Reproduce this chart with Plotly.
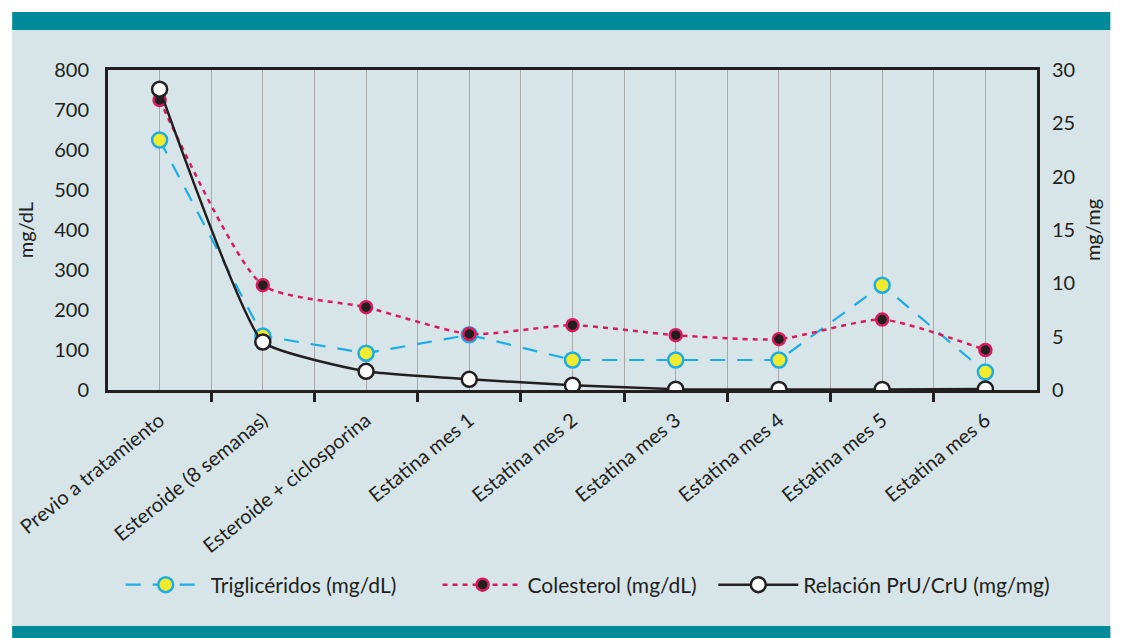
import plotly.graph_objects as go

categories = ["Previo a tratamiento", "Esteroide (8 semanas)", "Esteroide + ciclosporina",
              "Estatina mes 1", "Estatina mes 2", "Estatina mes 3", "Estatina mes 4",
              "Estatina mes 5", "Estatina mes 6"]
trigliceridos = [625, 135, 92, 138, 75, 75, 75, 262, 45]
colesterol = [725, 262, 207, 140, 162, 137, 127, 176, 100]
relacion = [28.2, 4.5, 1.75, 1.0, 0.45, 0.08, 0.05, 0.05, 0.1]
left_ticks = [0, 100, 200, 300, 400, 500, 600, 700, 800]
right_ticks = [0, 5, 10, 15, 20, 25, 30]

x = list(range(len(categories)))
FONT = "Lato"
BG = "#d7e5e8"
TEAL = "#008b9a"

W, H = 1113, 638
L, R, T, B = 108, 55, 70, 248
PW, PH = W - L - R, H - T - B


def px(fx):
    return (fx - L) / PW


def py(fy):
    return (H - B - fy) / PH


fig = go.Figure()
fig.add_trace(go.Scatter(
    x=x, y=trigliceridos, name="Triglicéridos (mg/dL)", mode="lines+markers",
    line=dict(color="#1cade4", width=2.2, dash="15px,12px"),
    marker=dict(size=15, color="#f2ea2c", line=dict(color="#1cade4", width=2.5)),
    legend="legend",
))
fig.add_trace(go.Scatter(
    x=x, y=colesterol, name="Colesterol (mg/dL)", mode="lines+markers",
    line=dict(color="#d81b5c", width=2.5, dash="5px,5px", shape="spline", smoothing=0.6),
    marker=dict(size=12, color="#231f20", line=dict(color="#d81b5c", width=2.5)),
    legend="legend2",
))
fig.add_trace(go.Scatter(
    x=x, y=relacion, name="Relación PrU/CrU (mg/mg)", mode="lines+markers", yaxis="y2",
    line=dict(color="#231f20", width=2.5, shape="spline", smoothing=0.4),
    marker=dict(size=15, color="white", line=dict(color="#231f20", width=2.5)),
    legend="legend3",
))

leg_common = dict(orientation="h", yanchor="middle", y=py(585), xanchor="left",
                  font=dict(size=21), bgcolor="rgba(0,0,0,0)", itemwidth=80)

fig.update_layout(
    width=W, height=H, autosize=False,
    paper_bgcolor="white", plot_bgcolor=BG,
    margin=dict(l=L, r=R, t=T, b=B),
    font=dict(family=FONT, size=20, color="#231f20"),
    showlegend=True,
    legend=dict(x=px(121), **leg_common),
    legend2=dict(x=px(445), **leg_common),
    legend3=dict(x=px(727), **leg_common),
    xaxis=dict(
        range=[-0.5, 8.5], tickvals=x, ticktext=categories, tickangle=-39,
        showgrid=True, gridcolor="#a9a9a9", gridwidth=1.2,
        showline=True, linecolor="#231f20", linewidth=3, mirror=True,
        ticks="", zeroline=False, ticklabelstandoff=8,
        minor=dict(tickvals=[i + 0.5 for i in x[:-1]], showgrid=True, gridcolor="#a9a9a9",
                   gridwidth=1.2, ticks="outside", ticklen=9, tickwidth=3, tickcolor="#231f20"),
        tickfont=dict(size=20),
    ),
    yaxis=dict(
        range=[0, 800], tickvals=left_ticks, showgrid=False, zeroline=False,
        showline=True, linecolor="#231f20", linewidth=3, ticks="",
        ticklabelstandoff=12,
        title=dict(text="mg/dL", font=dict(size=20), standoff=16),
        tickfont=dict(size=20),
    ),
    yaxis2=dict(
        range=[0, 30], tickvals=right_ticks, overlaying="y", side="right",
        showgrid=False, zeroline=False, showline=True, linecolor="#231f20", linewidth=3,
        ticks="", ticklabelstandoff=8,
        title=dict(text="mg/mg", font=dict(size=20), standoff=12),
        tickfont=dict(size=20),
    ),
    shapes=[
        dict(type="rect", xref="paper", yref="paper", layer="below",
             x0=px(10), x1=px(W + 20), y0=py(H + 5), y1=py(30),
             fillcolor=BG, line=dict(width=0)),
        dict(type="rect", xref="paper", yref="paper", layer="below",
             x0=px(10), x1=px(W + 20), y0=py(30), y1=py(12),
             fillcolor=TEAL, line=dict(width=0)),
        dict(type="rect", xref="paper", yref="paper", layer="below",
             x0=px(10), x1=px(W + 20), y0=py(H + 5), y1=py(626),
             fillcolor=TEAL, line=dict(width=0)),
    ],
)

fig.write_html(
    "out.html",
    config={"displayModeBar": False, "responsive": False},
    post_script=("document.body.style.margin='0';"
                 "document.body.style.overflow='hidden';"
                 "document.documentElement.style.overflow='hidden';"),
)
